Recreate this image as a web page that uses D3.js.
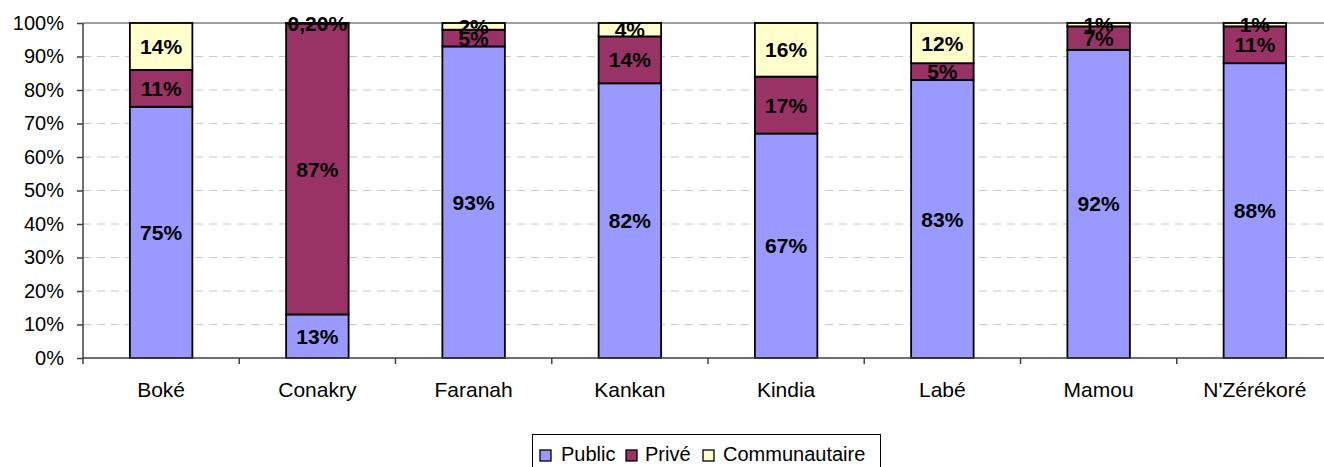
<!DOCTYPE html>
<html>
<head>
<meta charset="utf-8">
<script src="https://d3js.org/d3.v7.min.js"></script>
<style>
  body { margin: 0; background: #fff; }
  svg { display: block; font-family: "Liberation Sans", Arial, sans-serif; }
</style>
</head>
<body>
<svg id="chart" width="1324" height="467"></svg>
<script>
// regions and shares (%) by type of school
var regions = ["Boké", "Conakry", "Faranah", "Kankan", "Kindia", "Labé", "Mamou", "N'Zérékoré"];
var publicVals = [75, 13, 93, 82, 67, 83, 92, 88];
var priveVals = [11, 86.8, 5, 14, 17, 5, 7, 11];
var communVals = [14, 0.2, 2, 4, 16, 12, 1, 1];
var seriesNames = ["Public", "Privé", "Communautaire"];
var seriesColors = ["#9999ff", "#993366", "#ffffcc"];
var yTicks = [0, 10, 20, 30, 40, 50, 60, 70, 80, 90, 100];

var data = regions.map(function(r, i) {
  return { region: r, Public: publicVals[i], "Privé": priveVals[i], Communautaire: communVals[i] };
});

var svg = d3.select("#chart");

var x = d3.scaleBand().domain(regions).range([83, 1333]).paddingInner(0.6).paddingOuter(0.3);
var xb = d3.scaleBand().domain(regions).range([83, 1333]); // for tick positions
var y = d3.scaleLinear().domain([0, 100]).range([358, 23]);

// gridlines
svg.append("g")
  .selectAll("line")
  .data(yTicks.filter(function(t) { return t > 0 && t < 100; }))
  .enter().append("line")
  .attr("x1", 83).attr("x2", 1324)
  .attr("y1", function(d) { return y(d); })
  .attr("y2", function(d) { return y(d); })
  .attr("stroke", "#c8c8c8")
  .attr("stroke-dasharray", "8,6");

// top line
svg.append("line")
  .attr("x1", 83).attr("x2", 1324)
  .attr("y1", y(100)).attr("y2", y(100))
  .attr("stroke", "#808080").attr("stroke-width", 1.5);

// stacked bars
var stack = d3.stack().keys(seriesNames);
var layers = stack(data);

var layer = svg.append("g").selectAll("g")
  .data(layers)
  .enter().append("g")
  .attr("fill", function(d, i) { return seriesColors[i]; });

layer.selectAll("rect")
  .data(function(d) { return d; })
  .enter().append("rect")
  .attr("x", function(d) { return x(d.data.region); })
  .attr("width", x.bandwidth())
  .attr("y", function(d) { return y(d[1]); })
  .attr("height", function(d) { return y(d[0]) - y(d[1]); })
  .attr("stroke", "#000")
  .attr("stroke-width", 1.8);

// value labels
function fmt(v) {
  if (v < 1) return d3.format(".2f")(v).replace(".", ",") + "%";
  return Math.round(v) + "%";
}
layer.selectAll("text")
  .data(function(d) { return d; })
  .enter().append("text")
  .attr("x", function(d) { return x(d.data.region) + x.bandwidth() / 2; })
  .attr("y", function(d) { return y((d[0] + d[1]) / 2); })
  .attr("dy", "0.36em")
  .attr("text-anchor", "middle")
  .attr("fill", "#000")
  .style("font-size", "21px")
  .style("font-weight", "bold")
  .text(function(d) { return fmt(d[1] - d[0]); });

// y axis
var yAxis = svg.append("g")
  .attr("transform", "translate(83,0)")
  .call(d3.axisLeft(y).tickValues(yTicks).tickSize(6).tickPadding(13)
    .tickFormat(function(d) { return d + "%"; }));
yAxis.select(".domain").attr("stroke", "#404040").attr("stroke-width", 1.5).attr("d", "M0," + y(100) + "V" + y(0));
yAxis.selectAll(".tick line").attr("stroke", "#404040").attr("stroke-width", 1.5);
yAxis.selectAll("text").style("font-size", "20px").attr("fill", "#000")
  .style("font-family", "'Liberation Sans', Arial, sans-serif");

// x axis
svg.append("line")
  .attr("x1", 83).attr("x2", 1324)
  .attr("y1", y(0)).attr("y2", y(0))
  .attr("stroke", "#404040").attr("stroke-width", 1.5);
svg.append("g").selectAll("line")
  .data(regions)
  .enter().append("line")
  .attr("x1", function(d) { return xb(d); })
  .attr("x2", function(d) { return xb(d); })
  .attr("y1", y(0)).attr("y2", y(0) + 6)
  .attr("stroke", "#404040").attr("stroke-width", 1.5);
svg.append("g").selectAll("text")
  .data(regions)
  .enter().append("text")
  .attr("x", function(d) { return x(d) + x.bandwidth() / 2; })
  .attr("y", 397)
  .attr("text-anchor", "middle")
  .style("font-size", "21px")
  .text(function(d) { return d; });

// legend
var legend = svg.append("g");
legend.append("rect")
  .attr("x", 532.5).attr("y", 434.5).attr("width", 348).attr("height", 40)
  .attr("fill", "#fff").attr("stroke", "#000").attr("stroke-width", 1);
var legSq = [540, 626, 703];
var legTx = [561, 645, 723];
seriesNames.forEach(function(s, i) {
  legend.append("rect")
    .attr("x", legSq[i]).attr("y", 450).attr("width", 11).attr("height", 11)
    .attr("fill", seriesColors[i]).attr("stroke", "#000").attr("stroke-width", 1.3);
  legend.append("text")
    .attr("x", legTx[i]).attr("y", 461)
    .style("font-size", "20px")
    .text(s);
});
</script>
</body>
</html>
